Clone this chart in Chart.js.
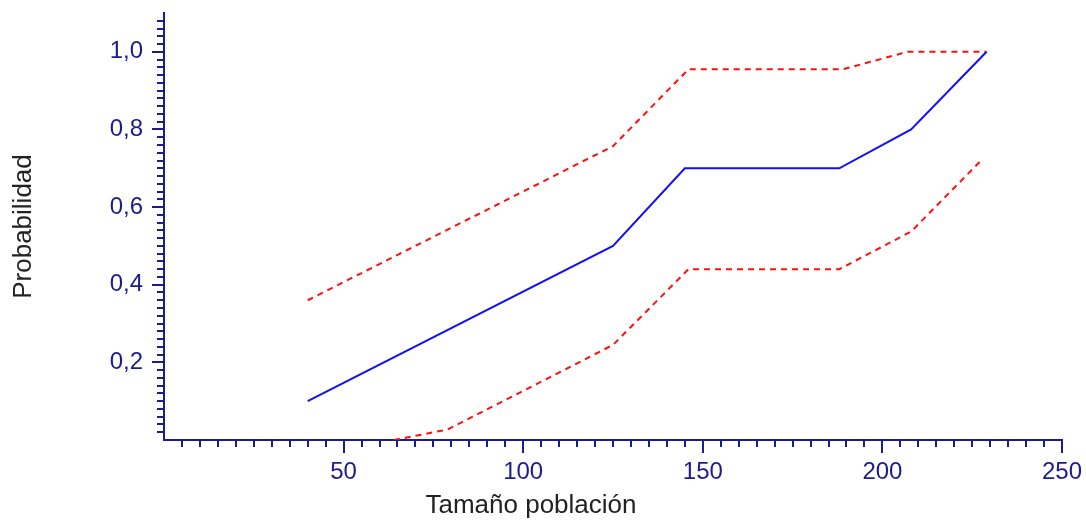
<!DOCTYPE html>
<html lang="es">
<head>
    <meta charset="UTF-8">
    <title>Probabilidad vs tamaño población</title>
    <script src="https://cdn.jsdelivr.net/npm/chart.js"></script>
    <style>
        * { margin: 0; padding: 0; box-sizing: border-box; }
        html, body { width: 1086px; height: 521px; background: #fff; overflow: hidden; }
        #chart { display: block; }
    </style>
</head>
<body>
    <canvas id="chart" width="1086" height="521"></canvas>

    <script>
        // tick labels
        const xTicks = [50, 100, 150, 200, 250];
        const yTicks = [0.2, 0.4, 0.6, 0.8, 1.0];

        // central estimate (blue)
        const meanX = [40, 125, 145, 188, 208, 229];
        const meanY = [0.10, 0.50, 0.70, 0.70, 0.80, 1.00];

        // upper bound (red dashed)
        const upperX = [40, 125, 146, 189, 207, 229];
        const upperY = [0.36, 0.757, 0.955, 0.955, 1.00, 1.00];

        // lower bound (red dashed)
        const lowerX = [64, 79, 125, 146, 188, 208, 228];
        const lowerY = [0.00, 0.027, 0.245, 0.44, 0.44, 0.537, 0.725];

        const navy = '#1c1c8c';
        const toPoints = (xs, ys) => xs.map((x, i) => ({ x: x, y: ys[i] }));

        // minor + major tick marks, placed with the chart's own scales
        const tickMarks = {
            id: 'tickMarks',
            afterDraw(chart) {
                const { ctx, scales: { x, y } } = chart;
                ctx.save();
                ctx.strokeStyle = navy;
                ctx.lineWidth = 2;
                ctx.beginPath();
                for (let i = 1; i <= 50; i++) {
                    const v = i * 5;
                    const px = Math.round(x.getPixelForValue(v));
                    const len = (v % 50 === 0) ? 13 : 7;
                    ctx.moveTo(px, y.bottom);
                    ctx.lineTo(px, y.bottom + len);
                }
                for (let i = 1; i <= 54; i++) {
                    const py = Math.round(y.getPixelForValue(i / 50));
                    const len = (i % 10 === 0) ? 12 : 7;
                    ctx.moveTo(x.left, py);
                    ctx.lineTo(x.left - len, py);
                }
                ctx.stroke();
                ctx.restore();
            }
        };

        new Chart(document.getElementById('chart'), {
            type: 'line',
            data: {
                datasets: [
                    {
                        label: 'Probabilidad',
                        data: toPoints(meanX, meanY),
                        borderColor: '#1010ff',
                        borderWidth: 2,
                        pointRadius: 0,
                        tension: 0
                    },
                    {
                        label: 'Límite superior',
                        data: toPoints(upperX, upperY),
                        borderColor: '#ff1010',
                        borderWidth: 2,
                        borderDash: [6, 5],
                        pointRadius: 0,
                        tension: 0
                    },
                    {
                        label: 'Límite inferior',
                        data: toPoints(lowerX, lowerY),
                        borderColor: '#ff1010',
                        borderWidth: 2,
                        borderDash: [6, 5],
                        pointRadius: 0,
                        tension: 0
                    }
                ]
            },
            options: {
                responsive: false,
                animation: false,
                layout: { padding: { left: 0, right: 24, top: 13, bottom: 0 } },
                plugins: {
                    legend: { display: false },
                    tooltip: { enabled: false },
                    title: {
                        display: true,
                        position: 'bottom',
                        text: 'Tamaño población',
                        color: '#222',
                        font: { family: 'Liberation Sans, Arial, sans-serif', size: 26, weight: 'normal' },
                        padding: { top: 0, bottom: 0 }
                    }
                },
                scales: {
                    x: {
                        type: 'linear',
                        min: 0,
                        max: 250,
                        grid: { display: false },
                        border: { display: true, color: navy, width: 2 },
                        ticks: {
                            color: navy,
                            padding: 10,
                            maxRotation: 0,
                            font: { family: 'Liberation Sans, Arial, sans-serif', size: 24 }
                        },
                        afterBuildTicks: s => { s.ticks = xTicks.map(v => ({ value: v })); },
                        afterFit: s => { s.height = 49.8; s.paddingLeft = 0; s.paddingRight = 0; }
                    },
                    y: {
                        type: 'linear',
                        min: 0,
                        max: 1.1,
                        grid: { display: false },
                        border: { display: true, color: navy, width: 2 },
                        title: {
                            display: true,
                            text: 'Probabilidad',
                            color: '#222',
                            font: { family: 'Liberation Sans, Arial, sans-serif', size: 26 },
                            padding: { top: 8, bottom: 0 }
                        },
                        ticks: {
                            color: navy,
                            padding: 13,
                            font: { family: 'Liberation Sans, Arial, sans-serif', size: 24 },
                            callback: v => v.toFixed(1).replace('.', ',')
                        },
                        afterBuildTicks: s => { s.ticks = yTicks.map(v => ({ value: v })); },
                        afterFit: s => { s.width = 164; s.paddingTop = 0; s.paddingBottom = 0; }
                    }
                }
            },
            plugins: [tickMarks]
        });
    </script>
</body>
</html>
